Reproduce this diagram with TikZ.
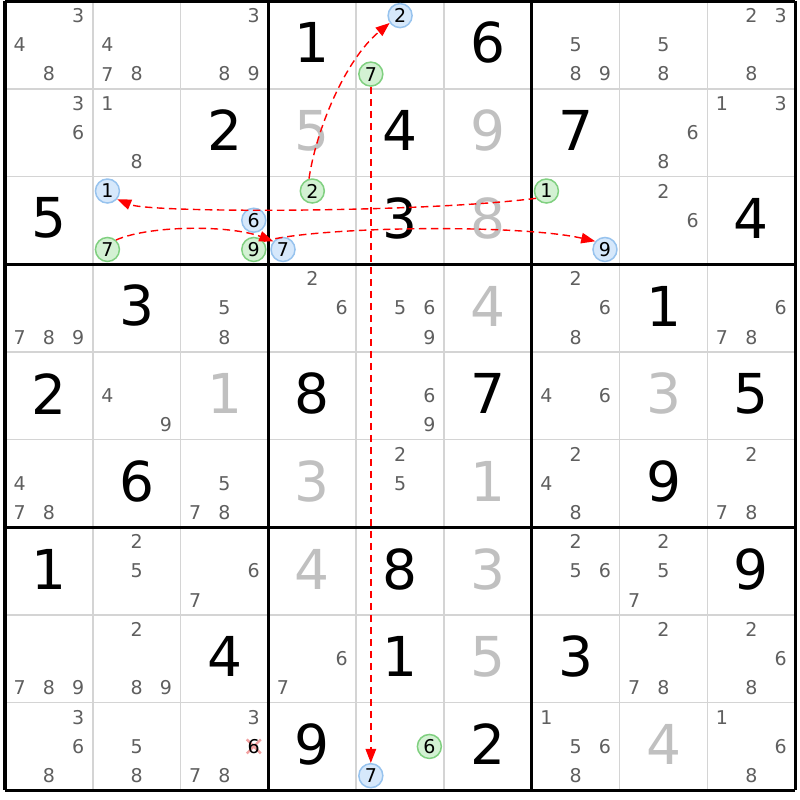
\documentclass[tikz,border=0pt]{standalone}
\usepackage{fontspec}
\newfontfamily\digfont{DejaVu Sans}
\usetikzlibrary{arrows.meta,calc}
\definecolor{solved}{HTML}{C0C0C0}
\definecolor{pencil}{HTML}{5F5F5F}
\definecolor{thinline}{HTML}{D4D4D4}
\definecolor{bfill}{HTML}{D6E8FB}
\definecolor{bdraw}{HTML}{97C3EE}
\definecolor{gfill}{HTML}{D3F1D3}
\definecolor{gdraw}{HTML}{80D080}
\definecolor{xcol}{HTML}{F2A0A0}
\def\ox{5}\def\oy{1}\def\cx{87.8}\def\cy{87.7}
\newcommand\gv[4][gvn]{\node[#1] (g#2#3) at ({\ox+(#3-0.5)*\cx},{\oy+(#2-0.5)*\cy-2}) {#4};}
\newcommand\pmk[3]{\foreach \d in {#3}{\node[pmn] (p#1#2\d) at ({\ox+(#2-1)*\cx+(mod(\d-1,3)+0.5)*\cx/3},{\oy+(#1-1)*\cy+(floor((\d-1)/3)+0.5)*\cy/3}) {\d};}}
\newcommand\ck[4]{\node[#4] (k#1#2#3) at ({\ox+(#2-1)*\cx+(mod(#3-1,3)+0.5)*\cx/3},{\oy+(#1-1)*\cy+(floor((#3-1)/3)+0.5)*\cy/3}) {#3};}
\begin{document}
\begin{tikzpicture}[x=1pt,y=-1pt,
  gvn/.style={inner sep=0pt,text=black,font=\digfont\fontsize{55}{55}\selectfont},
  svn/.style={gvn,text=solved},
  pmn/.style={inner sep=0pt,text=pencil,font=\digfont\fontsize{19}{19}\selectfont},
  cand/.style={circle,inner sep=0pt,minimum size=24pt,line width=1.5pt,text=black,font=\digfont\fontsize{19}{19}\selectfont},
  bc/.style={cand,fill=bfill,draw=bdraw},
  gc/.style={cand,fill=gfill,draw=gdraw},
  thin grid/.style={draw=thinline,line width=1.6pt},
  thick grid/.style={draw=black,line width=3.2pt},
  link/.style={draw=red,line width=1.4pt,dash pattern=on 7.5pt off 4.5pt,-{Triangle[length=14pt,width=10.5pt]}},
  xmark/.style={draw=xcol,line width=2.4pt}]
\useasboundingbox[fill=white] (0,0) rectangle (800,800);
% grid
\foreach \i in {1,2,4,5,7,8}{
  \draw[thin grid] ({\ox+\i*\cx},\oy) -- ({\ox+\i*\cx},{\oy+9*\cy});
  \draw[thin grid] (\ox,{\oy+\i*\cy}) -- ({\ox+9*\cx},{\oy+\i*\cy});
}
\foreach \i in {0,3,6,9}{
  \draw[thick grid] ({\ox+\i*\cx},\oy) -- ({\ox+\i*\cx},{\oy+9*\cy});
  \draw[thick grid] (\ox,{\oy+\i*\cy}) -- ({\ox+9*\cx},{\oy+\i*\cy});
}
% given digits
\gv{1}{4}{1}\gv{1}{6}{6}\gv{2}{3}{2}\gv{2}{5}{4}\gv{2}{7}{7}
\gv{3}{1}{5}\gv{3}{5}{3}\gv{3}{9}{4}\gv{4}{2}{3}\gv{4}{8}{1}
\gv{5}{1}{2}\gv{5}{4}{8}\gv{5}{6}{7}\gv{5}{9}{5}\gv{6}{2}{6}
\gv{6}{8}{9}\gv{7}{1}{1}\gv{7}{5}{8}\gv{7}{9}{9}\gv{8}{3}{4}
\gv{8}{5}{1}\gv{8}{7}{3}\gv{9}{4}{9}\gv{9}{6}{2}
% solved digits
\gv[svn]{2}{4}{5}\gv[svn]{2}{6}{9}\gv[svn]{3}{6}{8}\gv[svn]{4}{6}{4}
\gv[svn]{5}{3}{1}\gv[svn]{5}{8}{3}\gv[svn]{6}{4}{3}\gv[svn]{6}{6}{1}
\gv[svn]{7}{4}{4}\gv[svn]{7}{6}{3}\gv[svn]{8}{6}{5}\gv[svn]{9}{8}{4}
% pencil marks
\pmk{1}{1}{3,4,8}\pmk{1}{2}{4,7,8}\pmk{1}{3}{3,8,9}\pmk{1}{7}{5,8,9}\pmk{1}{8}{5,8}\pmk{1}{9}{2,3,8}
\pmk{2}{1}{3,6}\pmk{2}{2}{1,8}\pmk{2}{8}{6,8}\pmk{2}{9}{1,3}
\pmk{3}{8}{2,6}
\pmk{4}{1}{7,8,9}\pmk{4}{3}{5,8}\pmk{4}{4}{2,6}\pmk{4}{5}{5,6,9}\pmk{4}{7}{2,6,8}\pmk{4}{9}{6,7,8}
\pmk{5}{2}{4,9}\pmk{5}{5}{6,9}\pmk{5}{7}{4,6}
\pmk{6}{1}{4,7,8}\pmk{6}{3}{5,7,8}\pmk{6}{5}{2,5}\pmk{6}{7}{2,4,8}\pmk{6}{9}{2,7,8}
\pmk{7}{2}{2,5}\pmk{7}{3}{6,7}\pmk{7}{7}{2,5,6}\pmk{7}{8}{2,5,7}
\pmk{8}{1}{7,8,9}\pmk{8}{2}{2,8,9}\pmk{8}{4}{6,7}\pmk{8}{8}{2,7,8}\pmk{8}{9}{2,6,8}
\pmk{9}{1}{3,6,8}\pmk{9}{2}{5,8}\pmk{9}{3}{3,7,8}\pmk{9}{7}{1,5,6,8}\pmk{9}{9}{1,6,8}
% eliminated candidate
\coordinate (x936) at ({\ox+2*\cx+2.5*\cx/3},{\oy+8*\cy+1.5*\cy/3});
\draw[xmark] ($(x936)+(-7,-7)$) -- ($(x936)+(7,7)$);
\draw[xmark] ($(x936)+(-7,7)$) -- ($(x936)+(7,-7)$);
\node[pmn,text=black] (p936) at (x936) {6};
% highlighted candidates
\ck{1}{5}{2}{bc}\ck{1}{5}{7}{gc}
\ck{3}{2}{1}{bc}\ck{3}{2}{7}{gc}
\ck{3}{3}{6}{bc}\ck{3}{3}{9}{gc}
\ck{3}{4}{2}{gc}\ck{3}{4}{7}{bc}
\ck{3}{7}{1}{gc}\ck{3}{7}{9}{bc}
\ck{9}{5}{6}{gc}\ck{9}{5}{7}{bc}
% links
\draw[link] (k342.105) .. controls (316,130) and (345,60) .. (k152.215);
\draw[link] (k371.215) .. controls (420,213) and (150,213) .. (k321.320);
\draw[link] (k327.48) .. controls (150,225) and (230,225) .. (k347.140);
\draw[link] (k339.40) .. controls (320,226) and (520,224) .. (k379.140);
\draw[link] (k157.south) -- (k957.north);
\end{tikzpicture}
\end{document}
